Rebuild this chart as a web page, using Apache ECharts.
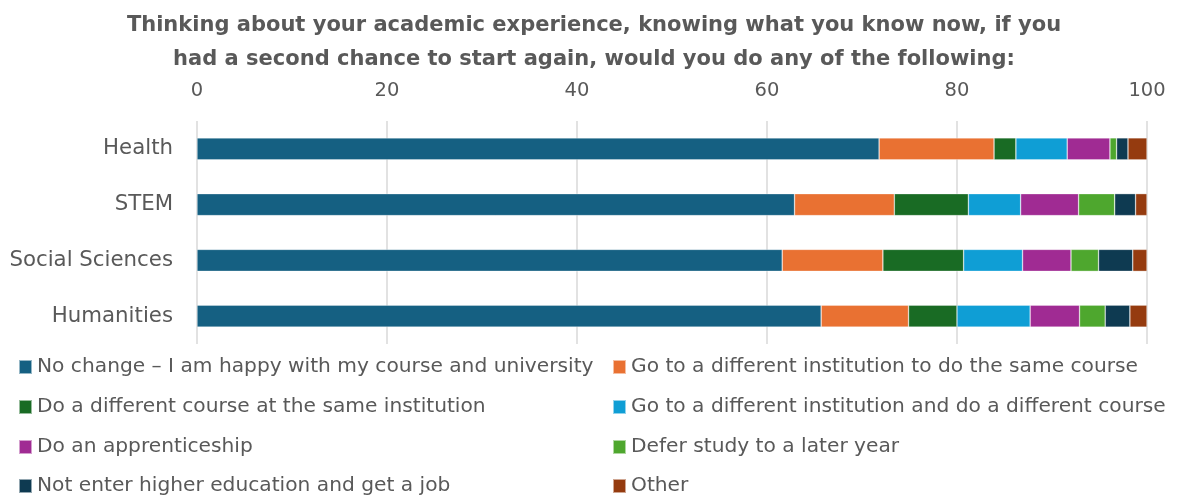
<!DOCTYPE html>
<html>
<head>
<meta charset="utf-8">
<script src="https://cdn.jsdelivr.net/npm/echarts@6/dist/echarts.min.js"></script>
<style>
  html, body { margin: 0; padding: 0; background: #fff; }
  #chart { width: 1178px; height: 495px; }
</style>
</head>
<body>
<div id="chart"></div>
<script>
// Subject groups, top to bottom
const categories = ['Health', 'STEM', 'Social Sciences', 'Humanities'];

// Percentage of respondents choosing each option, per subject group
const noChange = [71.8, 62.9, 61.6, 65.7];
const sameCourseOtherInst = [12.1, 10.5, 10.6, 9.2];
const otherCourseSameInst = [2.3, 7.8, 8.5, 5.1];
const otherInstOtherCourse = [5.4, 5.5, 6.2, 7.7];
const apprenticeship = [4.5, 6.1, 5.1, 5.2];
const deferStudy = [0.7, 3.8, 2.9, 2.7];
const getJob = [1.2, 2.2, 3.6, 2.6];
const other = [2.0, 1.2, 1.5, 1.8];

const seriesNames = [
  'No change \u2013 I am happy with my course and university',
  'Go to a different institution to do the same course',
  'Do a different course at the same institution',
  'Go to a different institution and do a different course',
  'Do an apprenticeship',
  'Defer study to a later year',
  'Not enter higher education and get a job',
  'Other'
];
const seriesValues = [noChange, sameCourseOtherInst, otherCourseSameInst, otherInstOtherCourse,
  apprenticeship, deferStudy, getJob, other];
const colors = ['#156082', '#E97132', '#196B24', '#0F9ED5', '#A02B93', '#4EA72E', '#0E3A51', '#953B0F'];

const axisTicks = [0, 20, 40, 60, 80, 100];

const textColor = '#595959';
const fontFamily = '"DejaVu Sans", "Liberation Sans", sans-serif';

const chart = echarts.init(document.getElementById('chart'), null, { renderer: 'canvas' });

// Legend laid out as two columns, four rows; one legend block per entry
const legendColumns = [18, 612];
const legendRows = [356, 396, 436, 475];
const legends = seriesNames.map((name, i) => ({
  data: [name],
  left: legendColumns[i % 2],
  top: legendRows[Math.floor(i / 2)],
  padding: 0,
  itemWidth: 13,
  itemHeight: 14,
  icon: 'rect',
  selectedMode: false,
  textStyle: { color: textColor, fontSize: 20.2, fontFamily: fontFamily, lineHeight: 22 }
}));

chart.setOption({
  animation: false,
  color: colors,
  title: {
    text: 'Thinking about your academic experience, knowing what you know now, if you\nhad a second chance to start again, would you do any of the following:',
    left: 589,
    textAlign: 'center',
    top: 4,
    textStyle: {
      color: textColor,
      fontSize: 21,
      fontWeight: 'bold',
      fontFamily: fontFamily,
      lineHeight: 34
    }
  },
  legend: legends,
  grid: {
    left: 197,
    right: 31,
    top: 121,
    height: 223,
    containLabel: false
  },
  xAxis: {
    type: 'value',
    position: 'top',
    min: axisTicks[0],
    max: axisTicks[axisTicks.length - 1],
    interval: axisTicks[1] - axisTicks[0],
    axisLine: { show: false },
    axisTick: { show: false },
    splitLine: { show: true, lineStyle: { color: '#d9d9d9', width: 1.5 } },
    axisLabel: { color: textColor, fontSize: 19.5, fontFamily: fontFamily, margin: 20 }
  },
  yAxis: {
    type: 'category',
    data: categories,
    inverse: true,
    axisLine: { show: false },
    axisTick: { show: false },
    axisLabel: { color: textColor, fontSize: 21.3, fontFamily: fontFamily, margin: 24 }
  },
  series: seriesNames.map((name, i) => ({
    name: name,
    type: 'bar',
    stack: 'total',
    barWidth: 22,
    data: seriesValues[i],
    itemStyle: { color: colors[i], borderColor: 'rgba(255,255,255,0.55)', borderWidth: 0.6 }
  }))
});
</script>
</body>
</html>
